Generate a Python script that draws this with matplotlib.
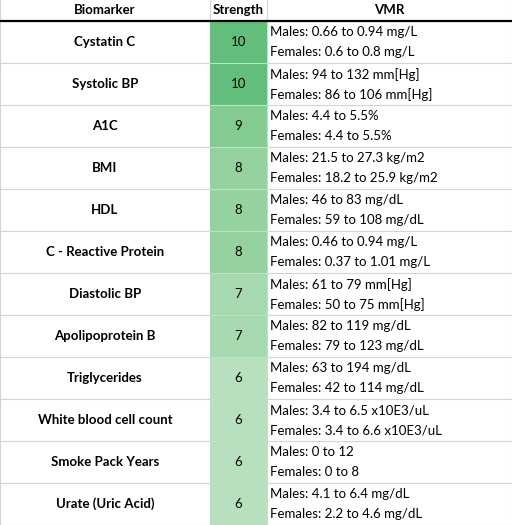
import matplotlib
matplotlib.use("Agg")
import matplotlib.pyplot as plt
from matplotlib.patches import Rectangle

biomarkers = ["Cystatin C", "Systolic BP", "A1C", "BMI", "HDL", "C - Reactive Protein",
              "Diastolic BP", "Apolipoprotein B", "Triglycerides", "White blood cell count",
              "Smoke Pack Years", "Urate (Uric Acid)"]
strength = [10, 10, 9, 8, 8, 8, 7, 7, 6, 6, 6, 6]
males = ["Males: 0.66 to 0.94 mg/L", "Males: 94 to 132 mm[Hg]", "Males: 4.4 to 5.5%",
         "Males: 21.5 to 27.3 kg/m2", "Males: 46 to 83 mg/dL", "Males: 0.46 to 0.94 mg/L",
         "Males: 61 to 79 mm[Hg]", "Males: 82 to 119 mg/dL", "Males: 63 to 194 mg/dL",
         "Males: 3.4 to 6.5 x10E3/uL", "Males: 0 to 12", "Males: 4.1 to 6.4 mg/dL"]
females = ["Females: 0.6 to 0.8 mg/L", "Females: 86 to 106 mm[Hg]", "Females: 4.4 to 5.5%",
           "Females: 18.2 to 25.9 kg/m2", "Females: 59 to 108 mg/dL", "Females: 0.37 to 1.01 mg/L",
           "Females: 50 to 75 mm[Hg]", "Females: 79 to 123 mg/dL", "Females: 42 to 114 mg/dL",
           "Females: 3.4 to 6.6 x10E3/uL", "Females: 0 to 8", "Females: 2.2 to 4.6 mg/dL"]
headers = ["Biomarker", "Strength", "VMR"]
colors = {10: "#63BE7B", 9: "#84CB8F", 8: "#95D29F", 7: "#A6D9AF", 6: "#B6E0BE"}

W, H = 512, 525
fig = plt.figure(figsize=(W/100, H/100), dpi=100)
ax = fig.add_axes([0, 0, 1, 1])
ax.set_xlim(0, W); ax.set_ylim(H, 0); ax.axis("off")
plt.rcParams['font.family'] = ['Lato', 'DejaVu Sans']

cols = [0, 210, 267, W]
top, rh = 21, (H - 21) / len(biomarkers)
fs = 9.5
grid = "#D4D4D4"
# header
for i, h in enumerate(headers):
    ax.text((cols[i] + cols[i+1]) / 2, 10.5, h, ha="center", va="center", fontsize=fs, fontweight="bold")
ax.plot([0, W], [20.5, 20.5], color="black", lw=1.6)
for i in range(len(biomarkers)):
    y0 = top + i * rh
    ax.add_patch(Rectangle((cols[1], y0), cols[2]-cols[1], rh, color=colors[strength[i]], lw=0))
    yc = y0 + rh / 2
    ax.text((cols[0]+cols[1])/2, yc, biomarkers[i], ha="center", va="center", fontsize=fs, fontweight="bold")
    ax.text((cols[1]+cols[2])/2, yc, str(strength[i]), ha="center", va="center", fontsize=fs)
    ax.text(cols[2] + 3, y0 + rh*0.27, males[i], ha="left", va="center", fontsize=fs)
    ax.text(cols[2] + 3, y0 + rh*0.75, females[i], ha="left", va="center", fontsize=fs)
    ax.plot([0, W], [y0 + rh, y0 + rh], color=grid, lw=0.8)
for x in cols:
    ax.plot([x, x], [0, H], color=grid, lw=0.8, zorder=0.5)
fig.savefig("out.png", dpi=100, facecolor="white")
